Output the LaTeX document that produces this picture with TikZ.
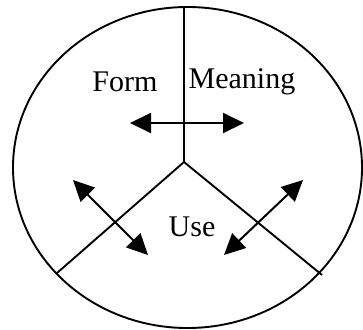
\documentclass[tikz,border=0pt]{standalone}
\usepackage{fontspec}
\setmainfont{Liberation Serif}
\usetikzlibrary{positioning, arrows.meta}

\begin{document}
\begin{tikzpicture}[
    x=1pt, y=-1pt,
    line width=1.9pt,
    label/.style={
        font=\fontsize{30}{32}\selectfont,
        inner sep=0pt
    },
    arrow/.style={
        {Triangle[length=21pt,width=20pt]}-{Triangle[length=21pt,width=20pt]},
        line width=2pt
    }
]
\useasboundingbox (0,0) rectangle (363,329);

% Outer ellipse
\draw (187.5,167.5) ellipse [x radius=174.5pt, y radius=160.5pt];

% Dividing lines
\coordinate (c) at (184,162);
\coordinate (top) at (184,8);
\coordinate (bl) at (57,273);
\coordinate (br) at (322,275);
\draw (c) -- (top);
\draw (c) -- (bl);
\draw (c) -- (br);

% Labels
\node (form) at (125,82) [label] {Form};
\node (meaning) at (242,82) [label] {Meaning};
\node (use) at (192,227) [label] {Use};

% Arrows
\coordinate (hl) at (130,123);
\coordinate (hr) at (244,123);
\coordinate (ll) at (73,180);
\coordinate (lr) at (148,255);
\coordinate (rl) at (303,180);
\coordinate (rr) at (224,255);
\draw [arrow] (hl) -- (hr);
\draw [arrow] (ll) -- (lr);
\draw [arrow] (rl) -- (rr);

\end{tikzpicture}
\end{document}
